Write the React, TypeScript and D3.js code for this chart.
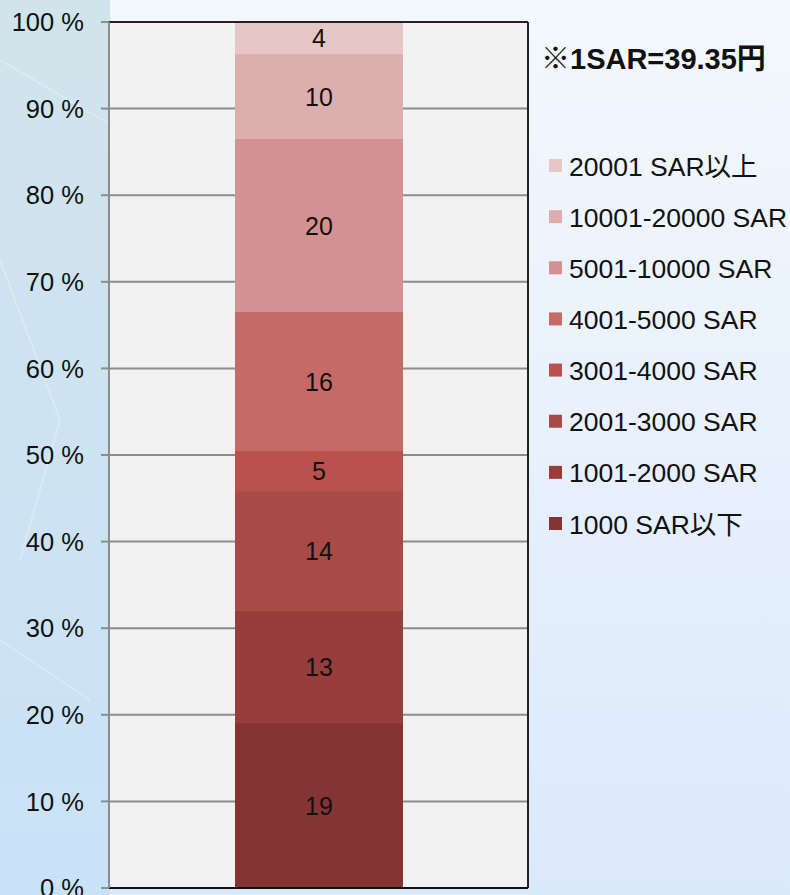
import React from "react";
import * as d3 from "d3";

const categories = [
  "1000 SAR以下",
  "1001-2000 SAR",
  "2001-3000 SAR",
  "3001-4000 SAR",
  "4001-5000 SAR",
  "5001-10000 SAR",
  "10001-20000 SAR",
  "20001 SAR以上",
];
const values = [19.05, 12.94, 13.85, 4.62, 16.05, 19.98, 9.81, 3.7];
const colors = ["#843533", "#973d3b", "#a94a46", "#b9514d", "#c66a67", "#d39291", "#dcafae", "#e6c7c7"];
const yTicks = [0, 10, 20, 30, 40, 50, 60, 70, 80, 90, 100];
const note = "※1SAR=39.35円";

const W = 790;
const H = 895;
const FONT = "'Liberation Sans', Arial, 'Noto Sans CJK JP', sans-serif";

export default function App() {
  const left = 109, right = 528, top = 22, bottom = 888;
  const y = d3.scaleLinear().domain([0, 100]).range([bottom, top]);
  const stacked = d3.stack<number[]>().keys(categories.map((_, i) => String(i))).value((d, k) => d[+k])([values]);
  const bx = 235, bw = 168;
  const legendY = d3.scaleLinear().domain([0, categories.length - 1]).range([166, 524]);
  const legendOrder = categories.map((c, i) => i).reverse();

  return (
    <svg width={W} height={H} style={{ position: "absolute", left: 0, top: 0, display: "block" }}>
      <defs>
        <linearGradient id="bgr" x1="0" y1="0" x2="0" y2="1">
          <stop offset="0" stopColor="#f3f8fd" />
          <stop offset="1" stopColor="#dce9fb" />
        </linearGradient>
        <linearGradient id="bgl" x1="0" y1="0" x2="0" y2="1">
          <stop offset="0" stopColor="#d0e4eb" />
          <stop offset="1" stopColor="#cae2f8" />
        </linearGradient>
      </defs>
      <rect x={0} y={0} width={W} height={H} fill="url(#bgl)" />
      <rect x={110} y={0} width={W - 110} height={H} fill="url(#bgr)" />
      <g stroke="#ffffff" strokeOpacity={0.25} fill="none" strokeWidth={2}>
        <path d="M0,60 L120,130" />
        <path d="M0,260 L60,420 L20,560" />
        <path d="M0,640 L90,700" />
      </g>
      <rect x={left} y={top} width={right - left} height={bottom - top} fill="#f2f2f2" />
      {yTicks.filter((t) => t > 0 && t < 100).map((t) => (
        <line key={t} x1={left} x2={right} y1={y(t)} y2={y(t)} stroke="#8c8c8c" strokeWidth={2} />
      ))}
      {stacked.map((s, i) => {
        const [y0, y1] = s[0];
        return (
          <g key={i}>
            <rect x={bx} width={bw} y={y(y1)} height={y(y0) - y(y1)} fill={colors[i]} />
            <text x={bx + bw / 2} y={(y(y0) + y(y1)) / 2} dy="0.36em" textAnchor="middle" fontFamily={FONT} fontSize={25} fill="#111">
              {Math.round(values[i])}
            </text>
          </g>
        );
      })}
      <line x1={left} x2={right} y1={top} y2={top} stroke="#222" strokeWidth={2} />
      <line x1={right} x2={right} y1={top} y2={bottom} stroke="#222" strokeWidth={2} />
      <line x1={left} x2={right} y1={bottom} y2={bottom} stroke="#111" strokeWidth={2} />
      <line x1={left} x2={left} y1={top} y2={bottom} stroke="#8c8c8c" strokeWidth={2} />
      {yTicks.map((t) => (
        <g key={t}>
          <line x1={101} x2={left} y1={y(t)} y2={y(t)} stroke="#8c8c8c" strokeWidth={2} />
          <text x={84} y={y(t)} dy="0.36em" textAnchor="end" fontFamily={FONT} fontSize={25.5} fill="#111">
            {t} %
          </text>
        </g>
      ))}
      <text x={541} y={69} fontFamily={FONT} fontSize={29} fontWeight="bold" fill="#111">{note}</text>
      {legendOrder.map((i, k) => (
        <g key={i}>
          <rect x={549} y={legendY(k) - 7} width={13} height={13} fill={colors[i]} />
          <text x={569} y={legendY(k)} dy="0.36em" fontFamily={FONT} fontSize={26.5} fill="#111">
            {categories[i]}
          </text>
        </g>
      ))}
    </svg>
  );
}
